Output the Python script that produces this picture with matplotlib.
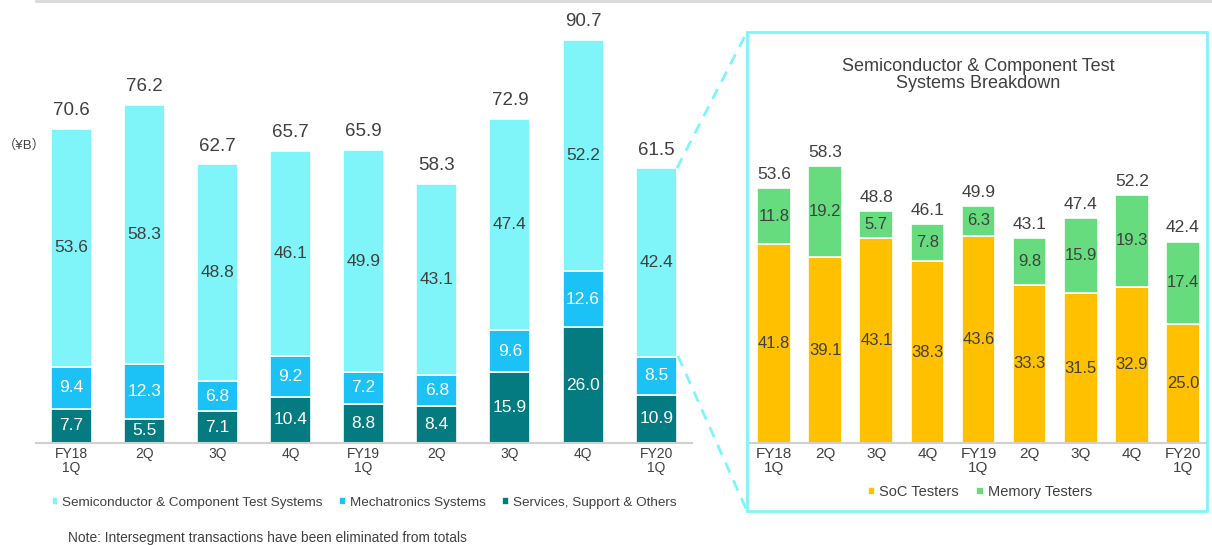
import numpy as np
import matplotlib.pyplot as plt
from matplotlib.patches import Rectangle
from matplotlib.lines import Line2D

plt.rcParams['font.family'] = ['Liberation Sans', 'Noto Sans CJK JP', 'DejaVu Sans']

# data
quarters = ["FY18\n1Q", "2Q", "3Q", "4Q", "FY19\n1Q", "2Q", "3Q", "4Q", "FY20\n1Q"]
services = [7.7, 5.5, 7.1, 10.4, 8.8, 8.4, 15.9, 26.0, 10.9]
mechatronics = [9.4, 12.3, 6.8, 9.2, 7.2, 6.8, 9.6, 12.6, 8.5]
semi_test = [53.6, 58.3, 48.8, 46.1, 49.9, 43.1, 47.4, 52.2, 42.4]
totals = [70.6, 76.2, 62.7, 65.7, 65.9, 58.3, 72.9, 90.7, 61.5]

soc = [41.8, 39.1, 43.1, 38.3, 43.6, 33.3, 31.5, 32.9, 25.0]
memory = [11.8, 19.2, 5.7, 7.8, 6.3, 9.8, 15.9, 19.3, 17.4]
semi_totals = [53.6, 58.3, 48.8, 46.1, 49.9, 43.1, 47.4, 52.2, 42.4]

c_semi = "#80F5F9"
c_mech = "#1CC2F5"
c_serv = "#037B80"
c_soc = "#FFC000"
c_mem = "#66DC7E"
dark = "#404040"

W, H = 1212, 545
fig = plt.figure(figsize=(W / 100, H / 100), dpi=100)

def fx(px):
    return px / W

def fy(py):
    return 1 - py / H

# ---- left chart
base = 443
ax = fig.add_axes([fx(36), fy(base), fx(692 - 36), (base - 40) / H])
x = np.arange(len(quarters))
bw = 0.56
b1 = np.array(services)
b2 = b1 + np.array(mechatronics)
ax.bar(x, services, bw, color=c_serv, edgecolor="white", linewidth=1.2, label="Services, Support & Others")
ax.bar(x, mechatronics, bw, bottom=b1, color=c_mech, edgecolor="white", linewidth=1.2, label="Mechatronics Systems")
ax.bar(x, semi_test, bw, bottom=b2, color=c_semi, edgecolor="white", linewidth=1.2,
       label="Semiconductor & Component Test Systems")
for i in x:
    ax.text(i, services[i] / 2, f"{services[i]:.1f}", ha="center", va="center", color="white", fontsize=12.5)
    ax.text(i, b1[i] + mechatronics[i] / 2, f"{mechatronics[i]:.1f}", ha="center", va="center",
            color="white", fontsize=12.5)
    ax.text(i, b2[i] + semi_test[i] / 2, f"{semi_test[i]:.1f}", ha="center", va="center",
            color=dark, fontsize=12.5)
    ax.text(i, b2[i] + semi_test[i] + 2.2, f"{totals[i]:.1f}", ha="center", va="bottom",
            color=dark, fontsize=13.5)
ax.set_xlim(-0.48, 8.49)
ax.set_ylim(0, 90.7)
ax.set_xticks(x)
ax.set_xticklabels(quarters, fontsize=10, color=dark, linespacing=1.0)
ax.tick_params(axis="x", length=0, pad=3)
ax.set_yticks([])
for s in ["top", "left", "right"]:
    ax.spines[s].set_visible(False)
ax.spines["bottom"].set_color("#D0D0D0")
ax.spines["bottom"].set_linewidth(1.5)
h, l = ax.get_legend_handles_labels()
ax.legend(h[::-1], l[::-1], loc="center", bbox_to_anchor=(fx(364), fy(503)),
          bbox_transform=fig.transFigure, ncol=3, frameon=False, fontsize=9.7,
          handlelength=0.5, handleheight=0.5, handletextpad=0.3, columnspacing=1.2,
          labelcolor=dark)

fig.text(fx(3), fy(145), "（¥B）", fontsize=9.5, color=dark, va="center", ha="left")
fig.text(fx(68), fy(538), "Note: Intersegment transactions have been eliminated from totals",
         fontsize=9.9, color=dark, va="center", ha="left")

# top gray line
fig.add_artist(Line2D([fx(36), 1], [fy(1), fy(1)], color="#D8D8D8", linewidth=2))

# ---- breakdown box
fig.add_artist(Rectangle((fx(747), fy(511)), fx(1207 - 747), (511 - 32) / H,
                         transform=fig.transFigure, fill=False, edgecolor=c_semi, linewidth=2))
fig.add_artist(Line2D([fx(677), fx(747)], [fy(168), fy(32)], color=c_semi, linewidth=2,
                      linestyle=(0, (4, 3))))
fig.add_artist(Line2D([fx(678), fx(747)], [fy(356), fy(511)], color=c_semi, linewidth=2,
                      linestyle=(0, (4, 3))))

ax2 = fig.add_axes([fx(750), fy(base), fx(1207 - 750), (base - 166) / H])
bw2 = 0.66
ax2.bar(x, soc, bw2, color=c_soc, edgecolor="white", linewidth=1.2, label="SoC Testers")
ax2.bar(x, memory, bw2, bottom=soc, color=c_mem, edgecolor="white", linewidth=1.2, label="Memory Testers")
for i in x:
    ax2.text(i, soc[i] / 2, f"{soc[i]:.1f}", ha="center", va="center", color=dark, fontsize=12)
    ax2.text(i, soc[i] + memory[i] / 2, f"{memory[i]:.1f}", ha="center", va="center", color=dark, fontsize=12)
    ax2.text(i, soc[i] + memory[i] + 1.3, f"{semi_totals[i]:.1f}", ha="center", va="bottom",
             color=dark, fontsize=12.5)
ax2.set_xlim(-0.47, 8.47)
ax2.set_ylim(0, 58.3)
ax2.set_xticks(x)
ax2.set_xticklabels(quarters, fontsize=11, color=dark, linespacing=0.95)
ax2.tick_params(axis="x", length=0, pad=3)
ax2.set_yticks([])
for s in ["top", "left", "right"]:
    ax2.spines[s].set_visible(False)
ax2.spines["bottom"].set_color("#D0D0D0")
ax2.spines["bottom"].set_linewidth(1.5)
ax2.legend(loc="center", bbox_to_anchor=(fx(980), fy(492)), bbox_transform=fig.transFigure,
           ncol=2, frameon=False, fontsize=10.5, handlelength=0.5, handleheight=0.5,
           handletextpad=0.3, columnspacing=1.2, labelcolor=dark)

fig.text(fx(978), fy(75), "Semiconductor & Component Test\nSystems Breakdown", ha="center", va="center",
         fontsize=13, color=dark, linespacing=0.95)

fig.savefig("out.png", dpi=100)
